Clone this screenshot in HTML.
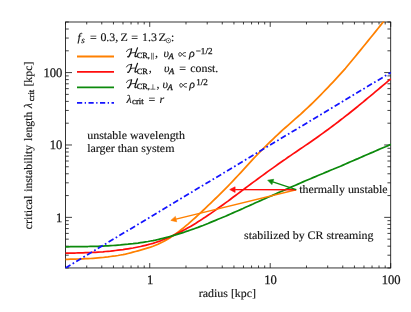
<!DOCTYPE html>
<html><head><meta charset="utf-8"><title>plot</title>
<style>html,body{margin:0;padding:0;background:#fff}body{width:411px;height:312px;overflow:hidden;font-family:"Liberation Serif",serif}svg{display:block;will-change:transform}text{text-rendering:geometricPrecision}</style>
</head><body>
<svg width="411" height="312" viewBox="0 0 411 312">
<defs><clipPath id="c"><rect x="65.1" y="21.6" width="326.0" height="246.75"/></clipPath></defs>
<rect x="65.5" y="22.0" width="325.2" height="245.95" fill="none" stroke="#111" stroke-width="0.85"/>
<path d="M65.50 267.95v-2.45M65.50 22.00v2.45M86.72 267.95v-2.45M86.72 22.00v2.45M101.77 267.95v-2.45M101.77 22.00v2.45M113.45 267.95v-2.45M113.45 22.00v2.45M122.99 267.95v-2.45M122.99 22.00v2.45M131.05 267.95v-2.45M131.05 22.00v2.45M138.04 267.95v-2.45M138.04 22.00v2.45M144.21 267.95v-2.45M144.21 22.00v2.45M149.72 267.95v-4.9M149.72 22.00v4.9M185.99 267.95v-2.45M185.99 22.00v2.45M207.21 267.95v-2.45M207.21 22.00v2.45M222.26 267.95v-2.45M222.26 22.00v2.45M233.94 267.95v-2.45M233.94 22.00v2.45M243.48 267.95v-2.45M243.48 22.00v2.45M251.55 267.95v-2.45M251.55 22.00v2.45M258.53 267.95v-2.45M258.53 22.00v2.45M264.70 267.95v-2.45M264.70 22.00v2.45M270.21 267.95v-4.9M270.21 22.00v4.9M306.48 267.95v-2.45M306.48 22.00v2.45M327.70 267.95v-2.45M327.70 22.00v2.45M342.75 267.95v-2.45M342.75 22.00v2.45M354.43 267.95v-2.45M354.43 22.00v2.45M363.97 267.95v-2.45M363.97 22.00v2.45M372.04 267.95v-2.45M372.04 22.00v2.45M379.02 267.95v-2.45M379.02 22.00v2.45M385.19 267.95v-2.45M385.19 22.00v2.45M390.70 267.95v-4.9M390.70 22.00v4.9M65.50 267.95h3.25M390.70 267.95h-3.25M65.50 255.20h3.25M390.70 255.20h-3.25M65.50 246.16h3.25M390.70 246.16h-3.25M65.50 239.15h3.25M390.70 239.15h-3.25M65.50 233.41h3.25M390.70 233.41h-3.25M65.50 228.57h3.25M390.70 228.57h-3.25M65.50 224.37h3.25M390.70 224.37h-3.25M65.50 220.67h3.25M390.70 220.67h-3.25M65.50 217.36h6.5M390.70 217.36h-6.5M65.50 195.57h3.25M390.70 195.57h-3.25M65.50 182.82h3.25M390.70 182.82h-3.25M65.50 173.78h3.25M390.70 173.78h-3.25M65.50 166.76h3.25M390.70 166.76h-3.25M65.50 161.03h3.25M390.70 161.03h-3.25M65.50 156.19h3.25M390.70 156.19h-3.25M65.50 151.99h3.25M390.70 151.99h-3.25M65.50 148.29h3.25M390.70 148.29h-3.25M65.50 144.97h6.5M390.70 144.97h-6.5M65.50 123.19h3.25M390.70 123.19h-3.25M65.50 110.44h3.25M390.70 110.44h-3.25M65.50 101.40h3.25M390.70 101.40h-3.25M65.50 94.38h3.25M390.70 94.38h-3.25M65.50 88.65h3.25M390.70 88.65h-3.25M65.50 83.81h3.25M390.70 83.81h-3.25M65.50 79.61h3.25M390.70 79.61h-3.25M65.50 75.90h3.25M390.70 75.90h-3.25M65.50 72.59h6.5M390.70 72.59h-6.5M65.50 50.80h3.25M390.70 50.80h-3.25M65.50 38.06h3.25M390.70 38.06h-3.25M65.50 29.01h3.25M390.70 29.01h-3.25M65.50 22.00h3.25M390.70 22.00h-3.25" stroke="#111" stroke-width="0.8" fill="none"/>
<g clip-path="url(#c)" fill="none" stroke-width="1.75" stroke-linejoin="round">
<polyline stroke="#ff8000" points="65.5,259.4 68.0,259.3 70.5,259.2 73.0,259.2 75.5,259.1 78.0,259.0 80.5,258.9 83.0,258.8 85.5,258.7 88.0,258.6 90.5,258.5 93.0,258.3 95.5,258.1 98.0,257.9 100.5,257.7 103.0,257.5 105.5,257.2 108.0,256.9 110.5,256.5 113.0,256.2 115.5,255.9 118.0,255.5 120.5,255.0 123.0,254.6 125.5,254.1 128.0,253.5 130.5,252.9 133.0,252.2 135.5,251.5 138.0,250.8 140.5,250.1 143.0,249.4 145.5,248.7 148.0,247.9 150.5,247.1 153.0,246.2 155.5,245.2 158.0,244.2 160.5,243.0 163.0,241.8 165.5,240.4 168.0,239.0 170.5,237.4 173.0,235.7 175.5,234.0 178.0,232.1 180.5,230.2 183.0,228.3 185.5,226.2 188.0,224.1 190.5,221.9 193.0,219.7 195.5,217.5 198.0,215.2 200.5,212.9 203.0,210.5 205.5,208.1 208.0,205.7 210.5,203.3 213.0,200.9 215.5,198.5 218.0,196.1 220.5,193.6 223.0,191.1 225.5,188.6 228.0,186.1 230.5,183.5 233.0,180.9 235.5,178.2 238.0,175.5 240.5,172.8 243.0,170.1 245.5,167.3 248.0,164.6 250.5,161.9 253.0,159.2 255.5,156.5 258.0,153.9 260.5,151.3 263.0,148.8 265.5,146.4 268.0,143.9 270.5,141.5 273.0,139.1 275.5,136.7 278.0,134.3 280.5,132.0 283.0,129.7 285.5,127.5 288.0,125.3 290.5,123.1 293.0,120.9 295.5,118.7 298.0,116.5 300.5,114.3 303.0,112.0 305.5,109.7 308.0,107.4 310.5,105.0 313.0,102.6 315.5,100.1 318.0,97.6 320.5,95.1 323.0,92.5 325.5,89.9 328.0,87.3 330.5,84.7 333.0,82.1 335.5,79.4 338.0,76.7 340.5,73.9 343.0,71.1 345.5,68.3 348.0,65.3 350.5,62.3 353.0,59.3 355.5,56.2 358.0,53.1 360.5,50.1 363.0,47.0 365.5,44.0 368.0,40.9 370.5,37.8 373.0,34.7 375.5,31.6 378.0,28.5 380.5,25.4 383.0,22.3 385.5,19.2 386.0,18.5"/>
<polyline stroke="#ff0d0d" points="65.5,253.2 68.0,253.1 70.5,253.1 73.0,253.0 75.5,253.0 78.0,252.9 80.5,252.9 83.0,252.8 85.5,252.7 88.0,252.6 90.5,252.5 93.0,252.4 95.5,252.3 98.0,252.1 100.5,252.0 103.0,251.8 105.5,251.5 108.0,251.3 110.5,251.1 113.0,250.8 115.5,250.5 118.0,250.2 120.5,249.9 123.0,249.6 125.5,249.2 128.0,248.8 130.5,248.4 133.0,248.0 135.5,247.5 138.0,247.0 140.5,246.5 143.0,245.9 145.5,245.3 148.0,244.7 150.5,244.0 153.0,243.3 155.5,242.5 158.0,241.6 160.5,240.8 163.0,239.8 165.5,238.8 168.0,237.8 170.5,236.7 173.0,235.5 175.5,234.3 178.0,233.1 180.5,231.9 183.0,230.6 185.5,229.2 188.0,227.8 190.5,226.4 193.0,224.9 195.5,223.4 198.0,221.8 200.5,220.3 203.0,218.6 205.5,217.0 208.0,215.3 210.5,213.6 213.0,211.9 215.5,210.1 218.0,208.3 220.5,206.5 223.0,204.7 225.5,202.9 228.0,201.1 230.5,199.2 233.0,197.3 235.5,195.5 238.0,193.6 240.5,191.7 243.0,189.9 245.5,188.0 248.0,186.1 250.5,184.3 253.0,182.4 255.5,180.6 258.0,178.7 260.5,176.9 263.0,175.1 265.5,173.3 268.0,171.4 270.5,169.6 273.0,167.9 275.5,166.1 278.0,164.3 280.5,162.5 283.0,160.8 285.5,159.1 288.0,157.3 290.5,155.6 293.0,153.9 295.5,152.2 298.0,150.5 300.5,148.8 303.0,147.1 305.5,145.4 308.0,143.7 310.5,142.0 313.0,140.2 315.5,138.5 318.0,136.7 320.5,134.9 323.0,133.1 325.5,131.3 328.0,129.5 330.5,127.6 333.0,125.7 335.5,123.9 338.0,122.0 340.5,120.0 343.0,118.1 345.5,116.1 348.0,114.2 350.5,112.2 353.0,110.2 355.5,108.2 358.0,106.2 360.5,104.1 363.0,102.1 365.5,100.0 368.0,97.9 370.5,95.9 373.0,93.8 375.5,91.7 378.0,89.6 380.5,87.5 383.0,85.4 385.5,83.3 388.0,81.2 390.5,79.1 390.8,78.9"/>
<polyline stroke="#0c8a0c" points="65.5,246.9 68.0,246.8 70.5,246.7 73.0,246.7 75.5,246.6 78.0,246.6 80.5,246.6 83.0,246.5 85.5,246.5 88.0,246.5 90.5,246.4 93.0,246.4 95.5,246.3 98.0,246.3 100.5,246.2 103.0,246.1 105.5,245.9 108.0,245.8 110.5,245.6 113.0,245.5 115.5,245.3 118.0,245.1 120.5,244.9 123.0,244.6 125.5,244.4 128.0,244.2 130.5,243.9 133.0,243.7 135.5,243.4 138.0,243.1 140.5,242.7 143.0,242.3 145.5,241.9 148.0,241.5 150.5,241.0 153.0,240.6 155.5,240.1 158.0,239.5 160.5,238.9 163.0,238.3 165.5,237.7 168.0,237.0 170.5,236.4 173.0,235.6 175.5,234.9 178.0,234.1 180.5,233.4 183.0,232.6 185.5,231.7 188.0,230.9 190.5,230.0 193.0,229.2 195.5,228.3 198.0,227.4 200.5,226.4 203.0,225.5 205.5,224.5 208.0,223.5 210.5,222.4 213.0,221.4 215.5,220.4 218.0,219.3 220.5,218.3 223.0,217.2 225.5,216.2 228.0,215.1 230.5,214.0 233.0,212.9 235.5,211.8 238.0,210.7 240.5,209.6 243.0,208.5 245.5,207.3 248.0,206.2 250.5,205.1 253.0,204.0 255.5,202.8 258.0,201.7 260.5,200.6 263.0,199.5 265.5,198.4 268.0,197.3 270.5,196.2 273.0,195.1 275.5,194.0 278.0,192.9 280.5,191.8 283.0,190.7 285.5,189.6 288.0,188.5 290.5,187.4 293.0,186.3 295.5,185.2 298.0,184.1 300.5,183.0 303.0,181.9 305.5,180.8 308.0,179.7 310.5,178.7 313.0,177.6 315.5,176.6 318.0,175.5 320.5,174.5 323.0,173.5 325.5,172.4 328.0,171.4 330.5,170.3 333.0,169.3 335.5,168.2 338.0,167.2 340.5,166.2 343.0,165.1 345.5,164.0 348.0,162.9 350.5,161.8 353.0,160.7 355.5,159.6 358.0,158.6 360.5,157.5 363.0,156.4 365.5,155.3 368.0,154.2 370.5,153.1 373.0,152.1 375.5,151.0 378.0,149.9 380.5,148.8 383.0,147.7 385.5,146.7 388.0,145.6 390.5,144.5 390.8,144.4"/>
<path stroke="#1414ff" stroke-width="1.75" stroke-dasharray="5.8 2.53 1.7 2.53" d="M65.5 267.95L390.7 72.59"/>
</g>
<path d="M296.2 189.7L176.0 219.1" stroke="#ff8000" stroke-width="1.4" fill="none"/><path d="M170.8 220.4L175.4 216.4L176.7 221.8Z" fill="#ff8000" stroke="#ff8000" stroke-width="0.6" stroke-linejoin="miter"/>
<path d="M296.2 189.7L235.1 189.6" stroke="#ff0d0d" stroke-width="1.4" fill="none"/><path d="M229.7 189.6L235.1 186.8L235.1 192.4Z" fill="#ff0d0d" stroke="#ff0d0d" stroke-width="0.6" stroke-linejoin="miter"/>
<path d="M296.2 189.7L272.8 181.9" stroke="#0c8a0c" stroke-width="1.4" fill="none"/><path d="M267.7 180.2L273.7 179.3L271.9 184.6Z" fill="#0c8a0c" stroke="#0c8a0c" stroke-width="0.6" stroke-linejoin="miter"/>
<path d="M77.0 56.5H114.0" stroke="#ff8000" stroke-width="1.8"/>
<path d="M77.0 71.95H114.0" stroke="#ff0d0d" stroke-width="1.8"/>
<path d="M77.0 87.4H114.0" stroke="#0c8a0c" stroke-width="1.8"/>
<path d="M77.0 102.85H114.0" stroke="#1414ff" stroke-width="1.9" stroke-dasharray="5.2 2.5 1.3 2.5"/>
<g fill="#141414" stroke="#141414" stroke-width="0.15" style="font-family:'Liberation Serif',serif">
<text transform="translate(150.1 284.0) scale(0.97 1)" text-anchor="middle" style="font-size:13.0px;stroke-width:0.25px;">1</text>
<text transform="translate(62.3 221.8) scale(0.97 1)" text-anchor="end" style="font-size:13.0px;stroke-width:0.25px;">1</text>
<text transform="translate(270.6 284.0) scale(0.97 1)" text-anchor="middle" style="font-size:13.0px;stroke-width:0.25px;">10</text>
<text transform="translate(62.3 149.4) scale(0.97 1)" text-anchor="end" style="font-size:13.0px;stroke-width:0.25px;">10</text>
<text transform="translate(391.1 284.0) scale(0.97 1)" text-anchor="middle" style="font-size:13.0px;stroke-width:0.25px;">100</text>
<text transform="translate(62.3 77.0) scale(0.97 1)" text-anchor="end" style="font-size:13.0px;stroke-width:0.25px;">100</text>
<text transform="translate(227.4 297.3) scale(1.037 1)" text-anchor="middle" style="font-size:11.5px;">radius [kpc]</text>
<g transform="translate(32.2 0) rotate(-90)">
<text transform="translate(-229.5 0) scale(1.062 1)" text-anchor="start" style="font-size:11.5px;">critical</text>
<text transform="translate(-191.8 0) scale(1.018 1)" text-anchor="start" style="font-size:11.5px;">instability</text>
<text transform="translate(-141.0 0) scale(1.018 1)" text-anchor="start" style="font-size:11.5px;">length</text>
<text transform="translate(-108.2 0) scale(1.037 1)" text-anchor="start" style="font-size:11.5px;font-style:italic;">λ</text>
<text transform="translate(-101.2 2.1) scale(1.0 1)" text-anchor="start" style="font-size:8.6px;stroke-width:0.3px;">crit</text>
<text transform="translate(-86.6 0) scale(1.037 1)" text-anchor="start" style="font-size:11.5px;">[kpc]</text>
</g>
<text transform="translate(87.2 139.2) scale(1.037 1)" text-anchor="start" style="font-size:11.5px;">unstable wavelength</text>
<text transform="translate(87.2 152.2) scale(1.037 1)" text-anchor="start" style="font-size:11.5px;">larger than system</text>
<text transform="translate(299.2 193.1) scale(1.037 1)" text-anchor="start" style="font-size:11.5px;">thermally unstable</text>
<text transform="translate(244.0 239.4) scale(1.037 1)" text-anchor="start" style="font-size:11.5px;">stabilized by CR streaming</text>
<text transform="translate(77.6 40.9) scale(1.037 1)" text-anchor="start" style="font-size:11.5px;font-style:italic;">f</text>
<text transform="translate(81.2 42.8) scale(1.037 1)" text-anchor="start" style="font-size:8.8px;font-style:italic;">s</text>
<text transform="translate(90.0 40.9) scale(1.037 1)" text-anchor="start" style="font-size:11.5px;">=</text>
<text transform="translate(100.4 40.9) scale(1.037 1)" text-anchor="start" style="font-size:11.5px;">0.3,</text>
<text transform="translate(120.5 40.9) scale(1.037 1)" text-anchor="start" style="font-size:11.5px;">Z</text>
<text transform="translate(131.2 40.9) scale(1.037 1)" text-anchor="start" style="font-size:11.5px;">=</text>
<text transform="translate(142.0 40.9) scale(1.037 1)" text-anchor="start" style="font-size:11.5px;">1.3</text>
<text transform="translate(158.6 40.9) scale(1.09 1)" text-anchor="start" style="font-size:11.5px;">Z</text>
<text transform="translate(171.0 40.9) scale(1.037 1)" text-anchor="start" style="font-size:11.5px;">:</text>
<text transform="translate(136.8 58.1) scale(1.037 1)" text-anchor="start" style="font-size:8.0px;stroke-width:0.3px;">CR,</text>
<text transform="translate(155.0 56.9) scale(1.037 1)" text-anchor="start" style="font-size:11.5px;">,</text>
<text transform="translate(163.4 56.9) scale(1.037 1)" text-anchor="start" style="font-size:11.5px;font-style:italic;">υ</text>
<text transform="translate(168.4 58.699999999999996) scale(1.037 1)" text-anchor="start" style="font-size:8.3px;font-style:italic;stroke-width:0.3px;">A</text>
<text transform="translate(189.0 56.9) scale(1.037 1)" text-anchor="start" style="font-size:11.5px;font-style:italic;">ρ</text>
<text transform="translate(195.7 53.6) scale(1.0 1)" text-anchor="start" style="font-size:9.1px;stroke-width:0.25px;">−1/2</text>
<text transform="translate(136.8 73.55000000000001) scale(1.037 1)" text-anchor="start" style="font-size:8.0px;stroke-width:0.3px;">CR</text>
<text transform="translate(148.7 72.35000000000001) scale(1.037 1)" text-anchor="start" style="font-size:11.5px;">,</text>
<text transform="translate(164.0 72.35000000000001) scale(1.037 1)" text-anchor="start" style="font-size:11.5px;font-style:italic;">υ</text>
<text transform="translate(169.0 74.15) scale(1.037 1)" text-anchor="start" style="font-size:8.3px;font-style:italic;stroke-width:0.3px;">A</text>
<text transform="translate(179.3 72.35000000000001) scale(1.037 1)" text-anchor="start" style="font-size:11.5px;">=</text>
<text transform="translate(190.2 72.35000000000001) scale(1.037 1)" text-anchor="start" style="font-size:11.5px;">const.</text>
<text transform="translate(136.8 89.00000000000001) scale(1.037 1)" text-anchor="start" style="font-size:8.0px;stroke-width:0.3px;">CR,</text>
<text transform="translate(156.4 87.80000000000001) scale(1.037 1)" text-anchor="start" style="font-size:11.5px;">,</text>
<text transform="translate(162.6 87.80000000000001) scale(1.037 1)" text-anchor="start" style="font-size:11.5px;font-style:italic;">υ</text>
<text transform="translate(167.6 89.60000000000001) scale(1.037 1)" text-anchor="start" style="font-size:8.3px;font-style:italic;stroke-width:0.3px;">A</text>
<text transform="translate(189.3 87.80000000000001) scale(1.037 1)" text-anchor="start" style="font-size:11.5px;font-style:italic;">ρ</text>
<text transform="translate(196.3 84.50000000000001) scale(1.0 1)" text-anchor="start" style="font-size:9.1px;stroke-width:0.25px;">1/2</text>
<text transform="translate(126.6 103.25) scale(1.037 1)" text-anchor="start" style="font-size:11.5px;font-style:italic;">λ</text>
<text transform="translate(132.1 104.15) scale(1.0 1)" text-anchor="start" style="font-size:8.6px;stroke-width:0.3px;">crit</text>
<text transform="translate(148.6 103.25) scale(1.037 1)" text-anchor="start" style="font-size:11.5px;">=</text>
<text transform="translate(159.4 103.25) scale(1.037 1)" text-anchor="start" style="font-size:11.5px;font-style:italic;">r</text>
</g>
<g transform="translate(126.3 57.0)" fill="none" stroke="#141414" stroke-linecap="round" stroke-linejoin="round"><path d="M0.2 -5.5C0.7 -7.1 2.6 -8.1 5.0 -8.0" stroke-width="0.85"/><path d="M5.3 -8.1C4.9 -5.6 3.9 -2.2 2.6 -0.5C2.2 0 1.7 0.1 1.4 -0.3" stroke-width="1.25"/><path d="M3.9 -3.8C5.6 -4.3 7.5 -4.5 9.4 -4.4" stroke-width="0.85"/><path d="M11.2 -9.1C10.2 -6.5 8.9 -2.8 8.7 -1.2C8.6 -0.2 9.2 0.1 10.2 -0.8" stroke-width="1.25"/></g>
<g transform="translate(126.3 72.45)" fill="none" stroke="#141414" stroke-linecap="round" stroke-linejoin="round"><path d="M0.2 -5.5C0.7 -7.1 2.6 -8.1 5.0 -8.0" stroke-width="0.85"/><path d="M5.3 -8.1C4.9 -5.6 3.9 -2.2 2.6 -0.5C2.2 0 1.7 0.1 1.4 -0.3" stroke-width="1.25"/><path d="M3.9 -3.8C5.6 -4.3 7.5 -4.5 9.4 -4.4" stroke-width="0.85"/><path d="M11.2 -9.1C10.2 -6.5 8.9 -2.8 8.7 -1.2C8.6 -0.2 9.2 0.1 10.2 -0.8" stroke-width="1.25"/></g>
<g transform="translate(126.3 87.9)" fill="none" stroke="#141414" stroke-linecap="round" stroke-linejoin="round"><path d="M0.2 -5.5C0.7 -7.1 2.6 -8.1 5.0 -8.0" stroke-width="0.85"/><path d="M5.3 -8.1C4.9 -5.6 3.9 -2.2 2.6 -0.5C2.2 0 1.7 0.1 1.4 -0.3" stroke-width="1.25"/><path d="M3.9 -3.8C5.6 -4.3 7.5 -4.5 9.4 -4.4" stroke-width="0.85"/><path d="M11.2 -9.1C10.2 -6.5 8.9 -2.8 8.7 -1.2C8.6 -0.2 9.2 0.1 10.2 -0.8" stroke-width="1.25"/></g>
<path transform="translate(178.8 56.7)" d="M7.0 -0.5C5.2 -0.3 4.3 -1.2 3.4 -2.3C2.6 -3.4 1.9 -4.1 1.1 -4.1C0.3 -4.1 0 -3.3 0 -2.3C0 -1.2 0.4 -0.5 1.2 -0.5C2.0 -0.5 2.6 -1.3 3.4 -2.3C4.3 -3.4 5.2 -4.3 7.0 -4.1" fill="none" stroke="#141414" stroke-width="0.9"/>
<path transform="translate(179.8 87.60000000000001)" d="M7.0 -0.5C5.2 -0.3 4.3 -1.2 3.4 -2.3C2.6 -3.4 1.9 -4.1 1.1 -4.1C0.3 -4.1 0 -3.3 0 -2.3C0 -1.2 0.4 -0.5 1.2 -0.5C2.0 -0.5 2.6 -1.3 3.4 -2.3C4.3 -3.4 5.2 -4.3 7.0 -4.1" fill="none" stroke="#141414" stroke-width="0.9"/>
<circle cx="168.4" cy="40.6" r="2.25" fill="none" stroke="#141414" stroke-width="0.6"/><circle cx="168.4" cy="40.6" r="0.6" fill="#141414"/>
<path d="M151.6 52.8V59.6M153.3 52.8V59.6" stroke="#141414" stroke-width="0.6" fill="none"/>
<path d="M152.9 84.30000000000001V89.2M150.4 89.2H155.4" stroke="#141414" stroke-width="0.6" fill="none"/>
</svg>
</body></html>
